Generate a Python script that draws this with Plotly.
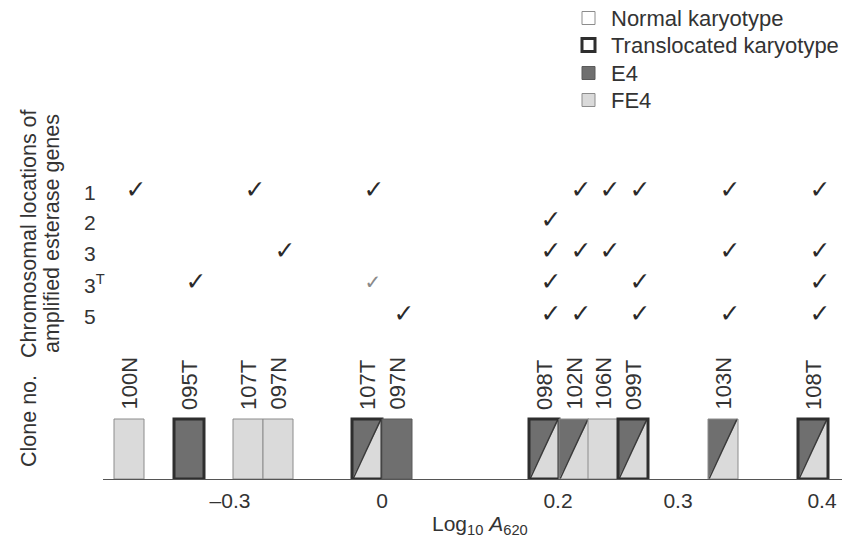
import plotly.graph_objects as go

# ---------------- data ----------------
clone_labels = ["100N", "095T", "107T", "097N", "107T", "097N",
                "098T", "102N", "106N", "099T", "103N", "108T"]
# position of each clone along the (schematic) Log10 A620 axis, in axis units
clone_pos = [129, 189, 248, 278, 367, 397, 544, 574, 603, 633, 723, 813]
# karyotype as drawn (N = normal outline, T = translocated heavy outline)
clone_karyotype = ["N", "T", "N", "N", "T", "N", "T", "N", "N", "T", "N", "T"]
# esterase type of each clone
clone_esterase = ["FE4", "E4", "FE4", "FE4", "E4+FE4", "E4",
                  "E4+FE4", "E4+FE4", "FE4", "E4+FE4", "E4+FE4", "E4+FE4"]

chrom_rows = ["1", "2", "3", "3T", "5"]
chrom_row_text = ["1", "2", "3", "3<sup>T</sup>", "5"]
chrom_row_level = [287, 257, 226, 195, 163]

# chromosomal locations of amplified esterase genes, per clone
clone_checks = [
    ["1"],
    ["3T"],
    ["1"],
    ["3"],
    ["1"],
    ["5"],
    ["2", "3", "3T", "5"],
    ["1", "3", "5"],
    ["1", "3"],
    ["1", "3T", "5"],
    ["1", "3", "5"],
    ["1", "3", "3T", "5"],
]
# faint / uncertain ticks (clone index, row)
faint_checks = [(4, "3T")]

tick_pos = [230, 382, 558, 678, 822]
tick_labels = ["\u20130.3", "0", "0.2", "0.3", "0.4"]

legend_labels = ["Normal karyotype", "Translocated karyotype", "E4", "FE4"]

# ---------------- style ----------------
FONT = "Liberation Sans, Arial, sans-serif"
TXT = "#333333"
DARK = "#6f6f6f"
LIGHT = "#dadada"
THICK = "#2e2e2e"
BOX_W = 30
BOX_H = 60
X0, X1 = 103, 842          # horizontal extent of plot area (px)
BASE_PX = 479              # baseline pixel row
H = 541
W = 842


def px_x(p):
    return (p - X0) / (X1 - X0)


def px_py(p):
    return (BASE_PX - p) / BASE_PX  # paper y


fig = go.Figure()

# check marks
row_map = dict(zip(chrom_rows, chrom_row_level))
cx, cy, fx, fy = [], [], [], []
for i, rows in enumerate(clone_checks):
    for r in rows:
        cx.append(clone_pos[i] + 7)
        cy.append(row_map[r])
for i, r in faint_checks:
    fx.append(clone_pos[i] + 6)
    fy.append(row_map[r])

fig.add_trace(go.Scatter(x=cx, y=cy, mode="text", text=["<b>\u2713</b>"] * len(cx),
                         textposition="middle center",
                         textfont=dict(family="DejaVu Sans", size=25, color="#2a2a2a"),
                         showlegend=False, hoverinfo="skip"))
fig.add_trace(go.Scatter(x=fx, y=fy, mode="text", text=["\u2713"] * len(fx),
                         textposition="middle center",
                         textfont=dict(family="DejaVu Sans", size=20, color="#8a8a8a"),
                         showlegend=False, hoverinfo="skip"))

shapes = []
annotations = []
for i, lab in enumerate(clone_labels):
    x = clone_pos[i]
    x0, x1 = x - BOX_W / 2, x + BOX_W / 2
    est = clone_esterase[i]
    fill = DARK if est == "E4" else LIGHT
    shapes.append(dict(type="rect", xref="x", yref="y", x0=x0, x1=x1, y0=0, y1=BOX_H,
                       fillcolor=fill, line=dict(width=0), layer="above"))
    if est == "E4+FE4":
        shapes.append(dict(type="path", xref="x", yref="y",
                           path=f"M {x0},0 L {x0},{BOX_H} L {x1},{BOX_H} Z",
                           fillcolor=DARK, line=dict(width=0), layer="above"))
        shapes.append(dict(type="line", xref="x", yref="y", x0=x0 + 1, y0=0, x1=x1 - 1, y1=BOX_H,
                           line=dict(color="#3a3a3a", width=1.5), layer="above"))
    if clone_karyotype[i] == "T":
        ln = dict(color=THICK, width=3)
    else:
        ln = dict(color="#5a5a5a" if est == "E4" else "#8c8c8c", width=1)
    shapes.append(dict(type="rect", xref="x", yref="y", x0=x0, x1=x1, y0=0, y1=BOX_H,
                       fillcolor="rgba(0,0,0,0)", line=ln, layer="above"))
    annotations.append(dict(x=x, y=BOX_H + 7, xref="x", yref="y", text=lab,
                            textangle=-90, xanchor="center", yanchor="bottom",
                            showarrow=False, font=dict(family=FONT, size=22, color=TXT)))

# row labels
for t, lv in zip(chrom_row_text, chrom_row_level):
    annotations.append(dict(x=px_x(82), y=lv, xref="paper", yref="y", text=t,
                            xanchor="left", yanchor="middle", showarrow=False,
                            font=dict(family=FONT, size=21, color=TXT)))

# y titles
annotations.append(dict(x=px_x(29), y=px_py(234), xref="paper", yref="paper",
                        text="Chromosomal locations of", textangle=-90,
                        xanchor="center", yanchor="middle", showarrow=False,
                        font=dict(family=FONT, size=21.5, color=TXT)))
annotations.append(dict(x=px_x(52), y=px_py(234), xref="paper", yref="paper",
                        text="amplified esterase genes", textangle=-90,
                        xanchor="center", yanchor="middle", showarrow=False,
                        font=dict(family=FONT, size=21.5, color=TXT)))
annotations.append(dict(x=px_x(29), y=px_py(421), xref="paper", yref="paper",
                        text="Clone no.", textangle=-90,
                        xanchor="center", yanchor="middle", showarrow=False,
                        font=dict(family=FONT, size=21.5, color=TXT)))

# x title
annotations.append(dict(x=px_x(480), y=px_py(525), xref="paper", yref="paper",
                        text="Log<sub>10</sub> <i>A</i><sub>620</sub>",
                        xanchor="center", yanchor="middle", showarrow=False,
                        font=dict(family=FONT, size=21, color=TXT)))

# legend
leg_rows = [18, 45, 73, 100]
leg_styles = [
    dict(fill="white", line=dict(color="#8c8c8c", width=1)),
    dict(fill="white", line=dict(color=THICK, width=3)),
    dict(fill=DARK, line=dict(color="#5a5a5a", width=1)),
    dict(fill=LIGHT, line=dict(color="#8c8c8c", width=1)),
]
for lab, ry, st in zip(legend_labels, leg_rows, leg_styles):
    shapes.append(dict(type="rect", xref="paper", yref="paper",
                       x0=px_x(582), x1=px_x(595), y0=px_py(ry + 6.5), y1=px_py(ry - 6.5),
                       fillcolor=st["fill"], line=st["line"], layer="above"))
    annotations.append(dict(x=px_x(609), y=px_py(ry), xref="paper", yref="paper", text=lab,
                            xanchor="left", yanchor="middle", showarrow=False,
                            font=dict(family=FONT, size=22, color=TXT)))

fig.update_layout(
    width=W, height=H,
    margin=dict(l=X0, r=W - X1, t=0, b=H - BASE_PX, pad=0),
    paper_bgcolor="white", plot_bgcolor="white",
    showlegend=False,
    shapes=shapes, annotations=annotations,
    xaxis=dict(range=[X0, X1], showgrid=False, zeroline=False, showline=True,
               linecolor="#555555", linewidth=1.3, ticks="",
               tickvals=tick_pos, ticktext=tick_labels, ticklabelstandoff=3,
               tickfont=dict(family=FONT, size=21, color=TXT), fixedrange=True),
    yaxis=dict(range=[0, BASE_PX], visible=False, fixedrange=True),
)

fig.write_html("out.html")
